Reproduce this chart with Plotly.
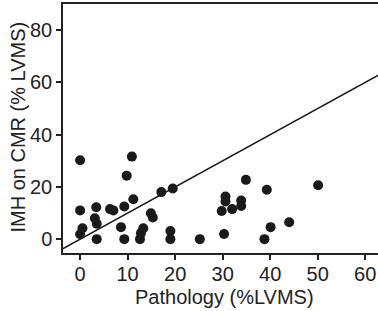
import plotly.graph_objects as go

pathology = [0, 0, 0.5, 0, 3.4, 3.1, 3.5, 3.5, 6.3, 7, 8.6, 9.3, 9.3, 9.8, 10.9, 11.2,
             12.6, 12.8, 13.3, 14.9, 15.3, 17.1, 19.5, 19, 19, 25.2, 29.8, 30.6, 30.6,
             30.3, 32, 33.9, 33.9, 34.9, 38.8, 39.3, 40.1, 44, 50.1]
imh_cmr = [30.2, 11, 4.2, 1.9, 12.2, 8, 5.9, 0, 11.5, 11, 4.6, 0, 12.5, 24.3, 31.6, 15.3,
           0, 2.3, 4.2, 9.9, 8.3, 18, 19.4, 3.1, 0, 0, 10.8, 16.3, 14.4,
           2, 11.5, 14.8, 12.7, 22.7, 0, 18.9, 4.6, 6.5, 20.6]
identity = [-10, 70]
x_ticks = [0, 10, 20, 30, 40, 50, 60]
y_ticks = [0, 20, 40, 60, 80]
x_title = "Pathology (%LVMS)"
y_title = "IMH on CMR (% LVMS)"

fig = go.Figure()
fig.add_trace(go.Scatter(x=identity, y=identity, mode="lines",
                         line=dict(color="#1a1a1a", width=1.5), hoverinfo="skip"))
fig.add_trace(go.Scatter(x=pathology, y=imh_cmr, mode="markers",
                         marker=dict(color="#1a1a1a", size=10, line=dict(width=0))))

font = dict(family="Liberation Sans, Arial, Helvetica, sans-serif", size=20, color="#222")
axis_common = dict(showgrid=False, zeroline=False, showline=True, linecolor="#222",
                   linewidth=1.5, ticks="outside", ticklen=5, tickwidth=1.5,
                   tickcolor="#222", tickfont=font, automargin=False)
fig.update_layout(
    width=378, height=311,
    margin=dict(l=63, r=0, t=4, b=58),
    paper_bgcolor="white", plot_bgcolor="white",
    showlegend=False,
    font=font,
    xaxis=dict(range=[-3.6, 62.7], tickvals=x_ticks, mirror=True,
               ticklabelstandoff=-3, **axis_common),
    yaxis=dict(range=[-5.3, 90], tickvals=y_ticks, **axis_common),
    annotations=[
        dict(text=x_title, xref="paper", yref="paper", x=0.514, y=-0.178,
             xanchor="center", yanchor="middle", showarrow=False, font=font),
        dict(text=y_title, xref="paper", yref="paper", x=-0.146, y=0.504,
             xanchor="center", yanchor="middle", textangle=-90, showarrow=False, font=font),
    ],
)
fig.write_html("out.html", config={"displayModeBar": False},
               post_script="document.body.style.margin='0';")
